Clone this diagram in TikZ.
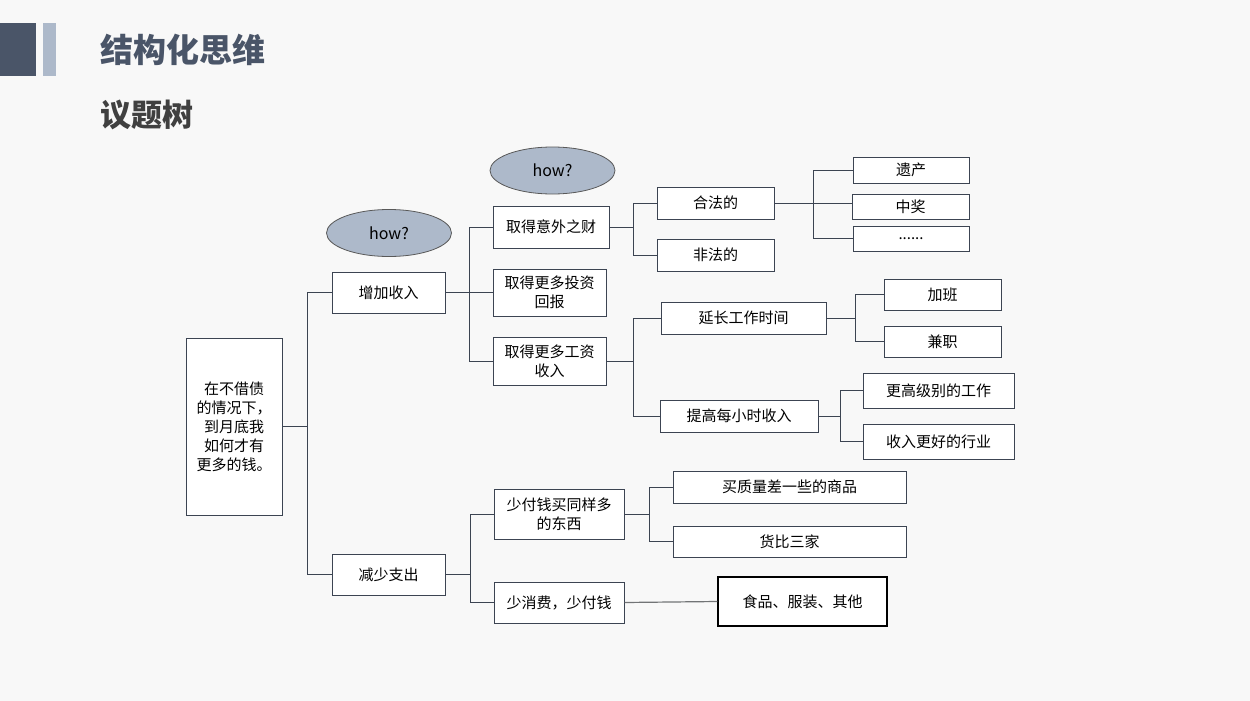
\documentclass[tikz,border=0pt]{standalone}
\usepackage{fontspec}
\setmainfont{Noto Sans CJK SC}
\definecolor{slate}{HTML}{4A5568}
\definecolor{lightslate}{HTML}{ADB9CA}
\definecolor{linec}{HTML}{3C4452}
\definecolor{bgc}{HTML}{F8F8F8}
\tikzset{
  box/.style={draw=linec, line width=1pt, fill=white, inner sep=0pt, align=center,
    font=\fontsize{15}{19}\selectfont},
  hownode/.style={ellipse, draw=gray!70!black, line width=0.8pt, fill=lightslate,
    minimum width=125, minimum height=47, font=\fontsize{16}{19}\selectfont},
  link/.style={draw=linec, line width=1pt},
}
\usetikzlibrary{shapes.geometric}
\begin{document}
\begin{tikzpicture}[x=1pt,y=-1pt]
\useasboundingbox (0,0) rectangle (1250,701);
\fill[bgc] (0,0) rectangle (1250,701);

%header bars
\fill[slate] (0,23) rectangle (36,76);
\fill[lightslate] (43,23) rectangle (56,76);

% Text Node
\node[anchor=west, inner sep=0pt, text=slate, font=\fontsize{33}{36}\selectfont\bfseries] (title) at (100,50) {结构化思维};
% Text Node
\node[anchor=west, inner sep=0pt, text=black!75, font=\fontsize{31}{34}\selectfont\bfseries] (subtitle) at (100,115) {议题树};

%ellipses
\node[hownode] (how1) at (389,233) {how?};
\node[hownode] (how2) at (552.5,170.5) {how?};

%root
\node[box, minimum width=96, minimum height=177] (root) at (234,426.5) {在不借债\\的情况下，\\到月底我\\如何才有\\更多的钱。};

%level 1
\node[box, minimum width=113, minimum height=41] (inc) at (388.5,292.5) {增加收入};
\node[box, minimum width=113, minimum height=41] (dec) at (388.5,574.5) {减少支出};

%level 2
\node[box, minimum width=116, minimum height=42] (luck) at (551,227) {取得意外之财};
\node[box, minimum width=113, minimum height=47] (invest) at (549.5,292.5) {取得更多投资\\回报};
\node[box, minimum width=113, minimum height=48] (wage) at (549.5,361) {取得更多工资\\收入};
\node[box, minimum width=130, minimum height=50] (cheap) at (559,514) {少付钱买同样多\\的东西};
\node[box, minimum width=130, minimum height=41] (less) at (559,602.5) {少消费，少付钱};

%level 3
\node[box, minimum width=117, minimum height=32] (legal) at (715.5,203) {合法的};
\node[box, minimum width=117, minimum height=32] (illegal) at (715.5,255) {非法的};
\node[box, minimum width=165, minimum height=32] (longer) at (743.5,318) {延长工作时间};
\node[box, minimum width=158, minimum height=32] (hourly) at (739,416) {提高每小时收入};
\node[box, minimum width=233, minimum height=32] (quality) at (789.5,487) {买质量差一些的商品};
\node[box, minimum width=233, minimum height=31] (compare) at (789.5,541.5) {货比三家};
\node[box, draw=black, line width=1.3pt, minimum width=169, minimum height=49] (goods) at (802.5,601.5) {食品、服装、其他};

%level 4
\node[box, minimum width=116, minimum height=26] (legacy) at (911,170) {遗产};
\node[box, minimum width=117, minimum height=25] (lottery) at (910.5,206.5) {中奖};
\node[box, minimum width=116, minimum height=25] (etc) at (911,238.5) {......};
\node[box, minimum width=117, minimum height=31] (overtime) at (942.5,294.5) {加班};
\node[box, minimum width=117, minimum height=31] (parttime) at (942.5,341.5) {兼职};
\node[box, minimum width=151, minimum height=35] (senior) at (938.5,390.5) {更高级别的工作};
\node[box, minimum width=151, minimum height=35] (industry) at (938.5,441.5) {收入更好的行业};

%bus points
\coordinate (b0) at (307,426.5);
\coordinate (b1) at (469,292.5);
\coordinate (b2) at (470,574.5);
\coordinate (b3) at (633,227);
\coordinate (b4) at (633,361);
\coordinate (b5) at (649,514);
\coordinate (b6) at (813,203);
\coordinate (b7) at (855,318);
\coordinate (b8) at (840,416);

%connectors
\draw[link] (root.east) -- (b0) |- (inc.west);
\draw[link] (b0) |- (dec.west);
\draw[link] (inc.east) -- (b1) |- (luck.west);
\draw[link] (b1) -- (invest.west);
\draw[link] (b1) |- (wage.west);
\draw[link] (dec.east) -- (b2) |- (cheap.west);
\draw[link] (b2) |- (less.west);
\draw[link] (luck.east) -- (b3) |- (legal.west);
\draw[link] (b3) |- (illegal.west);
\draw[link] (wage.east) -- (b4) |- (longer.west);
\draw[link] (b4) |- (hourly.west);
\draw[link] (cheap.east) -- (b5) |- (quality.west);
\draw[link] (b5) |- (compare.west);
\draw[link] (legal.east) -- (b6) |- (legacy.west);
\draw[link] (b6) -- (lottery.west |- b6);
\draw[link] (b6) |- (etc.west);
\draw[link] (longer.east) -- (b7) |- (overtime.west);
\draw[link] (b7) |- (parttime.west);
\draw[link] (hourly.east) -- (b8) |- (senior.west);
\draw[link] (b8) |- (industry.west);
\draw[draw=gray!80!linec, line width=1.2pt] (less.east) -- (goods.west);

\end{tikzpicture}
\end{document}
